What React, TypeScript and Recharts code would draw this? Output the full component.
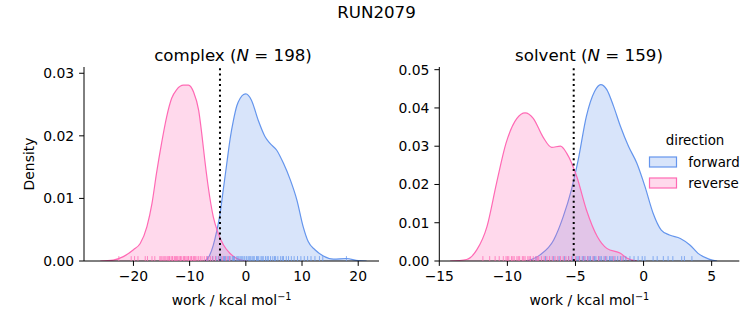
import React from 'react';
import { ComposedChart, Area, XAxis, YAxis, Scatter, ReferenceLine, Legend } from 'recharts';

const FWD = '#6495ED';
const REV = '#FF69B4';
const FONT = '"DejaVu Sans", sans-serif';
const FS = 13.9;

// ---- complex panel ----
const complexFwdX = [-7.3, -6.5, -5.8, -5.2, -4.6, -4.0, -3.4, -2.8, -2.2, -1.6, -1.0, -0.4, 0, 1.0, 2.2, 3.4, 4.3, 5.5, 6.7, 7.9, 9.1, 10.2, 11.1, 12.3, 13.8, 15.6, 17.9, 20.0, 21.5];
const complexFwdY = [0, 0.0008, 0.0025, 0.0047, 0.0075, 0.0115, 0.0155, 0.0195, 0.0225, 0.0248, 0.026, 0.0266, 0.0267, 0.0257, 0.0225, 0.0199, 0.0188, 0.0177, 0.0156, 0.013, 0.0097, 0.0055, 0.0031, 0.0018, 0.0008, 0.0003, 0.0004, 0.00005, 0];
const complexRevX = [-25.9, -23.6, -21.8, -20.0, -18.8, -17.6, -16.7, -15.9, -15.0, -14.1, -13.2, -12.3, -11.1, -10.2, -9.3, -8.4, -7.85, -7.3, -6.7, -5.8, -4.9, -4.0, -2.8, -1.6, -0.4, 0.4];
const complexRevY = [0, 0.00015, 0.0007, 0.0018, 0.0028, 0.0055, 0.0092, 0.014, 0.0188, 0.023, 0.026, 0.0274, 0.0281, 0.0281, 0.027, 0.0241, 0.0204, 0.0161, 0.0119, 0.0071, 0.0044, 0.0026, 0.0012, 0.0004, 0.00005, 0];
const complexFwdRug = [-6.8, -5.9, -5.3, -4.9, -4.6, -4.4, -4.0, -3.8, -3.6, -3.2, -3.0, -2.8, -2.4, -2.2, -2.0, -1.6, -1.4, -1.2, -0.9, -0.7, -0.5, -0.2, 0.1, 0.4, 0.6, 0.8, 1.1, 1.3, 1.5, 1.9, 2.1, 2.3, 2.7, 2.9, 3.1, 3.5, 3.8, 4.0, 4.4, 4.8, 5.1, 5.3, 5.7, 6.2, 6.5, 6.7, 7.2, 7.6, 8.1, 8.6, 9.2, 9.8, 10.4, 11.0, 11.6, 12.3, 13.1, 13.7, 17.9];
const complexRevRug = [-22.6, -20.4, -19.8, -19.2, -17.9, -17.5, -16.7, -16.2, -15.3, -15.1, -14.9, -14.6, -14.4, -14.2, -13.9, -13.7, -13.6, -13.3, -13.1, -13.0, -12.7, -12.5, -12.3, -12.2, -11.9, -11.7, -11.6, -11.4, -11.1, -10.9, -10.8, -10.5, -10.3, -10.2, -9.9, -9.7, -9.6, -9.3, -9.1, -9.0, -8.7, -8.4, -8.1, -7.8, -7.4, -7.0, -6.7, -6.3, -5.9, -5.4, -4.8, -4.2, -3.5, -2.9];
const complexXTicks = [-20, -10, 0, 10, 20];
const complexYTicks = [0, 0.01, 0.02, 0.03];
const complexCut = -4.6;

// ---- solvent panel ----
const solventFwdX = [-8.6, -7.6, -6.6, -5.9, -5.3, -4.8, -4.2, -3.6, -3.15, -2.7, -2.2, -1.7, -1.1, -0.5, 0.1, 0.7, 1.3, 1.9, 2.7, 3.4, 4.0, 4.8, 5.4];
const solventFwdY = [0, 0.0016, 0.0055, 0.0116, 0.0186, 0.0264, 0.0378, 0.0443, 0.0461, 0.0448, 0.0404, 0.0352, 0.0299, 0.0256, 0.0195, 0.0125, 0.0081, 0.0068, 0.0059, 0.0042, 0.002, 0.0005, 0];
const solventRevX = [-14.2, -13.0, -12.25, -11.5, -10.8, -10.1, -9.3, -8.7, -8.1, -7.4, -6.75, -6.1, -5.65, -4.9, -4.2, -3.4, -2.7, -1.7, -1.2, -0.5];
const solventRevY = [0, 0.0004, 0.0029, 0.009, 0.0203, 0.0308, 0.0373, 0.0387, 0.0373, 0.0325, 0.0297, 0.03, 0.0282, 0.022, 0.0134, 0.0064, 0.0033, 0.002, 0.0007, 0];
const solventFwdRug = [-7.9, -7.2, -6.6, -6.2, -5.8, -5.5, -5.2, -4.9, -4.8, -4.7, -4.5, -4.4, -4.3, -4.1, -4.0, -3.9, -3.7, -3.6, -3.5, -3.3, -3.2, -3.1, -2.9, -2.8, -2.7, -2.5, -2.4, -2.3, -2.1, -1.9, -1.7, -1.5, -1.3, -1.0, -0.7, -0.4, -0.1, 0.1, 0.7, 1.0, 1.45, 1.8, 2.15, 2.8, 3.0, 3.55];
const solventRevRug = [-11.8, -11.3, -10.9, -10.6, -10.3, -10.1, -10.0, -9.9, -9.7, -9.6, -9.5, -9.3, -9.2, -9.1, -8.9, -8.8, -8.7, -8.5, -8.4, -8.3, -8.1, -7.9, -7.8, -7.7, -7.5, -7.3, -7.1, -6.9, -6.7, -6.5, -6.3, -6.1, -5.9, -5.7, -5.5, -5.3, -5.0, -4.7, -4.4, -4.1, -3.7, -3.3, -2.8, -2.2, -1.6];
const solventXTicks = [-15, -10, -5, 0, 5];
const solventYTicks = [0, 0.01, 0.02, 0.03, 0.04, 0.05];
const solventCut = -5.13;

function merge(fx: number[], fy: number[], rx: number[], ry: number[]) {
  const map = new Map<number, any>();
  fx.forEach((x, i) => { const r = map.get(x) || { x }; r.fwd = fy[i]; map.set(x, r); });
  rx.forEach((x, i) => { const r = map.get(x) || { x }; r.rev = ry[i]; map.set(x, r); });
  return Array.from(map.values()).sort((a, b) => a.x - b.x);
}
const rug = (xs: number[]) => xs.map((x) => ({ x, y: 0 }));

const fmtX = (v: number) => String(v).replace('-', '\u2212');
const fmtY = (v: number) => v.toFixed(2);

const RugTick = (color: string) => (props: any) => {
  const { cx, cy } = props;
  if (cx == null || cy == null) return null;
  return <line x1={cx} x2={cx} y1={cy} y2={cy - 4.9} stroke={color} strokeWidth={1} strokeOpacity={0.75} />;
};

const tickStyle = { fill: '#000', fontSize: FS, fontFamily: FONT };

const LegendBox = () => (
  <svg width={113} height={70} style={{ display: 'block' }}>
    <text x={55} y={20} textAnchor="middle" fontFamily={FONT} fontSize={13.4} fill="#000">direction</text>
    <rect x={9.5} y={32} width={27} height={10} fill={FWD} fillOpacity={0.25} stroke={FWD} strokeWidth={1.2} />
    <text x={48.3} y={41.5} fontFamily={FONT} fontSize={13.4} fill="#000">forward</text>
    <rect x={9.5} y={53} width={27} height={10} fill={REV} fillOpacity={0.25} stroke={REV} strokeWidth={1.2} />
    <text x={48.3} y={62.5} fontFamily={FONT} fontSize={13.4} fill="#000">reverse</text>
  </svg>
);

type PanelProps = {
  width: number; left: number; marginLeft: number; marginRight: number; yWidth: number;
  data: any[]; fwdRug: any[]; revRug: any[]; xDomain: [number, number]; xTicks: number[];
  yDomain: [number, number]; yTicks: number[]; cut: number; legend?: boolean;
};

function Panel(p: PanelProps) {
  return (
    <div style={{ position: 'absolute', left: p.left, top: 0 }}>
      <ComposedChart width={p.width} height={325} data={p.data}
        margin={{ top: 67, right: p.marginRight, left: p.marginLeft, bottom: 34 }}>
        <XAxis dataKey="x" type="number" domain={p.xDomain} ticks={p.xTicks} allowDataOverflow
          tickFormatter={fmtX} tick={tickStyle} tickSize={4.9} tickMargin={5}
          axisLine={{ stroke: '#000', strokeWidth: 1 }} tickLine={{ stroke: '#000' }} height={30} />
        <YAxis type="number" domain={p.yDomain} ticks={p.yTicks} allowDataOverflow
          tickFormatter={fmtY} tick={tickStyle} tickSize={4.9} tickMargin={5} width={p.yWidth}
          axisLine={{ stroke: '#000', strokeWidth: 1 }} tickLine={{ stroke: '#000' }} />
        <Area type="monotone" dataKey="fwd" stroke={FWD} strokeWidth={1.2} fill={FWD} fillOpacity={0.25}
          connectNulls isAnimationActive={false} dot={false} activeDot={false} />
        <Area type="monotone" dataKey="rev" stroke={REV} strokeWidth={1.2} fill={REV} fillOpacity={0.25}
          connectNulls isAnimationActive={false} dot={false} activeDot={false} />
        <Scatter data={p.fwdRug} dataKey="y" shape={RugTick(FWD)} isAnimationActive={false} />
        <Scatter data={p.revRug} dataKey="y" shape={RugTick(REV)} isAnimationActive={false} />
        <ReferenceLine x={p.cut} stroke="#000" strokeWidth={2} strokeDasharray="2 3.3" />
        {p.legend && (
          <Legend layout="vertical" align="center" verticalAlign="middle" content={() => <LegendBox />}
            wrapperStyle={{ position: 'absolute', left: 260, top: 125, width: 113, height: 70 }} />
        )}
      </ComposedChart>
    </div>
  );
}

export default function App() {
  const complexData = merge(complexFwdX, complexFwdY, complexRevX, complexRevY);
  const solventData = merge(solventFwdX, solventFwdY, solventRevX, solventRevY);
  return (
    <div style={{ position: 'absolute', left: 0, top: 0, width: 753, height: 325, background: '#fff', fontFamily: FONT }}>
      <Panel width={380} left={0} marginLeft={24} marginRight={1} yWidth={60}
        data={complexData} fwdRug={rug(complexFwdRug)} revRug={rug(complexRevRug)}
        xDomain={[-28.8, 23.7]} xTicks={complexXTicks} yDomain={[0, 0.031]} yTicks={complexYTicks} cut={complexCut} />
      <Panel width={373} left={380} marginLeft={9.3} marginRight={13.7} yWidth={50}
        data={solventData} fwdRug={rug(solventFwdRug)} revRug={rug(solventRevRug)}
        xDomain={[-15, 7.03]} xTicks={solventXTicks} yDomain={[0, 0.0507]} yTicks={solventYTicks} cut={solventCut} legend />
      <svg width={753} height={325} style={{ position: 'absolute', left: 0, top: 0, pointerEvents: 'none' }}>
        <text x={376.5} y={17.5} textAnchor="middle" fontFamily={FONT} fontSize={16.67} fill="#000">RUN2079</text>
        <text x={233} y={60.5} textAnchor="middle" fontFamily={FONT} fontSize={16.67} fill="#000">
          complex (<tspan fontStyle="italic">N</tspan> = 198)
        </text>
        <text x={589} y={60.5} textAnchor="middle" fontFamily={FONT} fontSize={16.67} fill="#000">
          solvent (<tspan fontStyle="italic">N</tspan> = 159)
        </text>
        <text x={33.5} y={164} textAnchor="middle" transform="rotate(-90 33.5 164)" fontFamily={FONT} fontSize={FS} fill="#000">Density</text>
        <text x={231.6} y={305} textAnchor="middle" fontFamily={FONT} fontSize={FS} fill="#000">
          work / kcal mol<tspan fontSize={9.7} dy={-5.5}>{'\u22121'}</tspan>
        </text>
        <text x={589.3} y={305} textAnchor="middle" fontFamily={FONT} fontSize={FS} fill="#000">
          work / kcal mol<tspan fontSize={9.7} dy={-5.5}>{'\u22121'}</tspan>
        </text>
      </svg>
    </div>
  );
}
